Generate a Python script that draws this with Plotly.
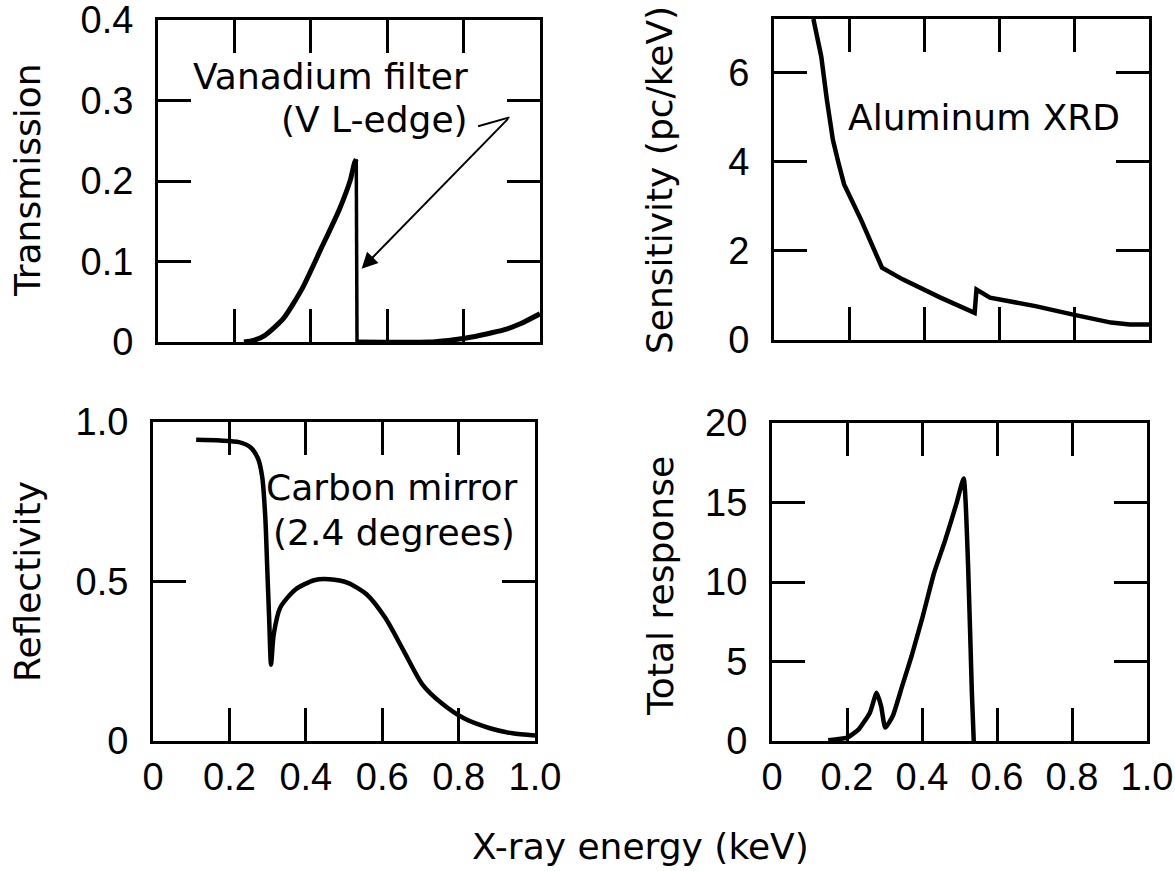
import plotly.graph_objects as go

# ---------------- data ----------------
# Top-left: Vanadium filter transmission (rising part, edge drop, high-energy tail)
v_rise_energy = [0.225, 0.250, 0.279, 0.328, 0.377, 0.426, 0.475, 0.504, 0.514, 0.519]
v_rise_trans = [0.0, 0.002, 0.008, 0.029, 0.066, 0.115, 0.165, 0.202, 0.222, 0.227]
v_edge_energy = [0.519, 0.521]
v_edge_trans = [0.227, 0.0]
v_tail_energy = [0.521, 0.709, 0.760, 0.807, 0.860, 0.905, 0.950, 1.0]
v_tail_trans = [0.0, 0.0, 0.002, 0.005, 0.010, 0.015, 0.023, 0.035]

# Top-right: Aluminum XRD sensitivity
al_energy = [0.105, 0.126, 0.141, 0.157, 0.172, 0.187, 0.232, 0.288, 0.343, 0.444, 0.535, 0.540, 0.576, 0.697, 0.798, 0.899, 0.949, 1.0]
al_sens = [7.2, 6.36, 5.39, 4.49, 3.97, 3.49, 2.70, 1.62, 1.36, 0.95, 0.61, 1.13, 0.95, 0.76, 0.57, 0.39, 0.35, 0.35]

# Bottom-left: Carbon mirror reflectivity
c_energy = [0.113, 0.176, 0.225, 0.255, 0.275, 0.286, 0.294, 0.299, 0.304, 0.309, 0.316, 0.333, 0.373, 0.422,
            0.461, 0.510, 0.559, 0.608, 0.657, 0.706, 0.755, 0.814, 0.882, 0.941, 1.0]
c_refl = [0.944, 0.942, 0.937, 0.921, 0.885, 0.827, 0.70, 0.544, 0.386, 0.239, 0.334, 0.418, 0.475, 0.504,
          0.507, 0.496, 0.46, 0.386, 0.281, 0.176, 0.119, 0.071, 0.040, 0.024, 0.017]

# Bottom-right: total response
t_energy = [0.15, 0.20, 0.231, 0.261, 0.279, 0.291, 0.302, 0.322, 0.347, 0.372, 0.402, 0.432, 0.462, 0.492, 0.511, 0.523, 0.533, 0.538]
t_resp = [0.04, 0.21, 0.73, 1.78, 3.03, 2.19, 0.84, 1.57, 3.45, 5.33, 7.84, 10.55, 12.64, 14.94, 16.51, 10.97, 3.03, 0.0]

# tick labels
x_tickvals = [0, 0.2, 0.4, 0.6, 0.8, 1.0]
x_ticktext = ["0", "0.2", "0.4", "0.6", "0.8", "1.0"]
tl_yvals = [0, 0.1, 0.2, 0.3, 0.4]
tl_ytext = ["0", "0.1", "0.2", "0.3", "0.4"]
tr_yvals = [0, 2, 4, 6]
tr_ytext = ["0", "2", "4", "6"]
bl_yvals = [0, 0.5, 1.0]
bl_ytext = ["0", "0.5", "1.0"]
br_yvals = [0, 5, 10, 15, 20]
br_ytext = ["0", "5", "10", "15", "20"]

# ---------------- figure ----------------
W, H = 1175, 871
FONT = "DejaVu Sans"
TICKFONT = dict(family="Liberation Sans", size=38, color="black")

fig = go.Figure()
fig.add_trace(go.Scatter(x=v_rise_energy, y=v_rise_trans, mode="lines",
                         line=dict(color="black", width=5, shape="spline", smoothing=0.6), xaxis="x", yaxis="y"))
fig.add_trace(go.Scatter(x=v_edge_energy, y=v_edge_trans, mode="lines",
                         line=dict(color="black", width=3.5), xaxis="x", yaxis="y"))
fig.add_trace(go.Scatter(x=v_tail_energy, y=v_tail_trans, mode="lines",
                         line=dict(color="black", width=5, shape="spline", smoothing=0.6), xaxis="x", yaxis="y"))
fig.add_trace(go.Scatter(x=al_energy, y=al_sens, mode="lines",
                         line=dict(color="black", width=4.5), xaxis="x2", yaxis="y2"))
fig.add_trace(go.Scatter(x=c_energy, y=c_refl, mode="lines",
                         line=dict(color="black", width=4.5, shape="spline", smoothing=0.7), xaxis="x3", yaxis="y3"))
fig.add_trace(go.Scatter(x=t_energy, y=t_resp, mode="lines",
                         line=dict(color="black", width=4.5, shape="spline", smoothing=0.5), xaxis="x4", yaxis="y4"))


def px_dom(a, b, total, flip=False):
    if flip:
        return [1 - b / total, 1 - a / total]
    return [a / total, b / total]


common = dict(showline=True, linewidth=3, linecolor="black", mirror="ticks", ticks="inside",
              ticklen=33, tickwidth=2.5, tickcolor="black", showgrid=False, zeroline=False,
              tickfont=TICKFONT, automargin=False, ticklabeloverflow="allow")


def xax(dom, anchor, labels):
    d = dict(common, domain=dom, anchor=anchor, range=[0, 1.0], tickmode="array",
             tickvals=x_tickvals, ticktext=x_ticktext if labels else [""] * 6)
    if labels:
        d["ticklabelstandoff"] = 0
    return d


def yax(dom, anchor, rng, vals, text):
    return dict(common, domain=dom, anchor=anchor, range=rng, tickmode="array",
                tickvals=vals, ticktext=text, ticklabelstandoff=14)


fig.update_layout(
    width=W, height=H, margin=dict(l=0, r=0, t=0, b=0, pad=0, autoexpand=False),
    paper_bgcolor="white", plot_bgcolor="white", showlegend=False,
    font=dict(family=FONT, color="black"),
    xaxis=xax(px_dom(158, 540, W), "y", False),
    yaxis=yax(px_dom(20, 342, H, True), "x", [0, 0.4], tl_yvals, tl_ytext),
    xaxis2=xax(px_dom(774, 1149, W), "y2", False),
    yaxis2=yax(px_dom(19, 340, H, True), "x2", [0, 7.2], tr_yvals, tr_ytext),
    xaxis3=xax(px_dom(153, 535, W), "y3", True),
    yaxis3=yax(px_dom(422, 741, H, True), "x3", [0, 1.0], bl_yvals, bl_ytext),
    xaxis4=xax(px_dom(772, 1147, W), "y4", True),
    yaxis4=yax(px_dom(423, 741, H, True), "x4", [0, 20], br_yvals, br_ytext),
)

AFONT = dict(family=FONT, size=36, color="black")
TFONT = dict(family=FONT, size=36, color="black")
ann = dict(showarrow=False, xanchor="center", yanchor="middle")

# panel labels
fig.add_annotation(text="Vanadium filter", x=0.817, y=0.33, xref="x", yref="y", showarrow=False,
                   xanchor="right", yanchor="middle", font=AFONT)
fig.add_annotation(text="(V L-edge)", x=0.817, y=0.277, xref="x", yref="y", showarrow=False,
                   xanchor="right", yanchor="middle", font=AFONT)
fig.add_annotation(text="Aluminum XRD", x=0.56, y=5.0, xref="x2", yref="y2", font=AFONT, **ann)
fig.add_annotation(text="Carbon mirror", x=0.625, y=0.795, xref="x3", yref="y3", font=AFONT, **ann)
fig.add_annotation(text="(2.4 degrees)", x=0.63, y=0.655, xref="x3", yref="y3", font=AFONT, **ann)

# arrow for V L-edge
arrow_tail = (0.92, 0.279)
arrow_tip = (0.533, 0.091)
arrow_stub = (0.838, 0.268)
fig.add_shape(type="line", x0=arrow_stub[0], y0=arrow_stub[1], x1=arrow_tail[0], y1=arrow_tail[1],
              xref="x", yref="y", line=dict(color="black", width=2))
fig.add_annotation(x=arrow_tip[0], y=arrow_tip[1], ax=arrow_tail[0], ay=arrow_tail[1], xref="x", yref="y",
                   axref="x", ayref="y", showarrow=True, arrowhead=2, arrowsize=1.6, arrowwidth=2,
                   arrowcolor="black", text="")

# axis titles
fig.add_annotation(text="Transmission", x=28 / W, y=1 - 180 / H, xref="paper", yref="paper", textangle=-90, font=TFONT, **ann)
fig.add_annotation(text="Sensitivity (pc/keV)", x=660 / W, y=1 - 180 / H, xref="paper", yref="paper", textangle=-90, font=TFONT, **ann)
fig.add_annotation(text="Reflectivity", x=27 / W, y=1 - 582 / H, xref="paper", yref="paper", textangle=-90, font=TFONT, **ann)
fig.add_annotation(text="Total response", x=660 / W, y=1 - 586 / H, xref="paper", yref="paper", textangle=-90, font=TFONT, **ann)
fig.add_annotation(text="X-ray energy (keV)", x=640 / W, y=1 - 846 / H, xref="paper", yref="paper", font=TFONT, **ann)

fig.write_html("out.html", config={"displayModeBar": False},
               post_script="document.body.style.margin='0px';")
